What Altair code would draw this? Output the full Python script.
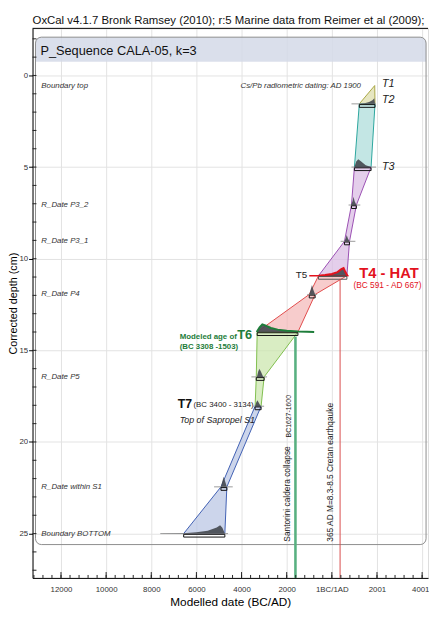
import altair as alt
import pandas as pd

# ---------------- axis tick values ----------------
x_major = [-12000, -10000, -8000, -6000, -4000, -2000, 0, 2000, 4000]
y_major = [0, 5, 10, 15, 20, 25]
x_minor = list(range(-13200, 4001, 400))
y_minor = list(range(-2, 28))

# ---------------- sequence elements ----------------
elem_names = ["T1", "T2", "T3", "P3_2", "P3_1", "T4", "P4", "T6", "P5", "T7", "S1", "BOTTOM"]
elem_depth = [0.55, 1.55, 5.0, 7.07, 9.05, 10.93, 11.95, 14.0, 16.45, 18.05, 22.45, 25.0]
range_lo = [1900, 1217, 1000, 870, 560, -590, -1000, -3308, -3348, -3400, -4913, -6565]
range_hi = [1900, 1913, 1739, 1087, 783, 667, -740, -1503, -3000, -3134, -4652, -4740]

# age-depth envelope segments (element names)
seg_names = ["yellow", "teal", "purple", "red", "green", "blue"]
seg_members = [["T1", "T2"], ["T2", "T3"], ["T3", "P3_2", "P3_1", "T4"],
               ["T4", "P4", "T6"], ["T6", "P5", "T7"], ["T7", "S1", "BOTTOM"]]
seg_fill = ["#dcdba6", "#a9dbd8", "#d9b9e2", "#f3b6b6", "#c9e5a9", "#b7c3e2"]
seg_stroke = ["#a9a644", "#2aa59d", "#9a4fb2", "#e04a4a", "#80bf4e", "#3f5fb3"]

# prior (light grey) baselines
prior_names = ["T2", "T3", "P3_2", "P3_1", "P4", "P5", "T7", "S1", "BOTTOM"]
prior_lo = [870, 870, 740, 390, -1087, -3565, -3478, -5217, -7600]
prior_hi = [1957, 1957, 1260, 1043, -652, -2870, -3000, -4391, -4600]

# posterior distributions: (years, relative heights in cm)
dist_years = {
    "T2": [1217, 1450, 1650, 1800, 1880, 1913],
    "T3": [1000, 1080, 1170, 1300, 1500, 1739],
    "P3_2": [850, 920, 960, 1010, 1090],
    "P3_1": [560, 620, 660, 710, 783],
    "T4": [-590, -300, 0, 250, 420, 520, 600, 690],
    "P4": [-1000, -940, -880, -820, -740],
    "T6": [-3330, -3200, -3080, -2950, -2700, -2400, -2000, -1500, -1100, -783],
    "P5": [-3320, -3260, -3210, -3140, -3040],
    "T7": [-3400, -3350, -3300, -3230, -3150],
    "S1": [-4913, -4850, -4790, -4730, -4652],
    "BOTTOM": [-7600, -6565, -6000, -5500, -5100, -4950, -4850, -4740],
}
dist_heights = {
    "T2": [0, 0.04, 0.1, 0.2, 0.3, 0],
    "T3": [0, 0.3, 0.43, 0.3, 0.1, 0],
    "P3_2": [0, 0.22, 0.45, 0.2, 0],
    "P3_1": [0, 0.18, 0.35, 0.15, 0],
    "T4": [0, 0.04, 0.1, 0.2, 0.36, 0.42, 0.2, 0],
    "P4": [0, 0.25, 0.52, 0.25, 0],
    "T6": [0, 0.25, 0.42, 0.36, 0.22, 0.13, 0.07, 0.03, 0.015, 0],
    "P5": [0, 0.3, 0.45, 0.28, 0],
    "T7": [0, 0.2, 0.33, 0.18, 0],
    "S1": [0, 0.3, 0.55, 0.3, 0],
    "BOTTOM": [0, 0.02, 0.07, 0.16, 0.33, 0.45, 0.32, 0],
}
outlined = {"T4": "#e3121d", "T6": "#1e7d3a"}

# events (vertical lines)
event_year = [-1613, 365]
event_top = [14.25, 11.1]
event_color = ["#58b080", "#d84a4a"]
event_width = [2.6, 1.0]

# element labels on the left
left_labels = ["Boundary top", "R_Date P3_2", "R_Date P3_1", "R_Date P4",
               "R_Date P5", "R_Date within S1", "Boundary BOTTOM"]
left_label_elem = ["T1", "P3_2", "P3_1", "P4", "P5", "S1", "BOTTOM"]

# ---------------- layout ----------------
W, H = 403, 560
XDOM = [-13261, 4261]
YDOM = [-2.57, 27.42]
FONT = "Liberation Sans"

xs = alt.Scale(domain=XDOM, nice=False, zero=False)
ys = alt.Scale(domain=YDOM, reverse=True, nice=False, zero=False)
label_expr = ("datum.value < 0 ? format(-datum.value,'d') : "
              "(datum.value == 0 ? '1BC/1AD' : format(datum.value + 1,'d'))")
xaxis = alt.Axis(values=x_major, labelExpr=label_expr, title="Modelled date (BC/AD)",
                 grid=True, gridColor="#e2e2e2", ticks=False, labelPadding=8,
                 labelAlign={"condition": {"test": "datum.value == 4000", "value": "right"},
                             "value": "center"},
                 labelOffset={"condition": {"test": "datum.value == 4000", "value": 7},
                              "value": 0},
                 labelFontSize=8, labelColor="#333", domainColor="#000",
                 titleFontSize=12, titleFontWeight="normal", titlePadding=3,
                 titleFont=FONT, labelFont=FONT)
yaxis = alt.Axis(values=y_major, title="Corrected depth (cm)", grid=True,
                 gridColor="#e2e2e2", tickSize=4, tickColor="#000", labelPadding=1,
                 labelFontSize=8, labelColor="#333", domainColor="#000",
                 titleFontSize=11, titleFontWeight="normal", titlePadding=0,
                 titleFont=FONT, labelFont=FONT)


def X(f):
    return alt.X(f, type="quantitative", scale=xs, axis=xaxis)


def Y(f):
    return alt.Y(f, type="quantitative", scale=ys, axis=yaxis)


depth_of = dict(zip(elem_names, elem_depth))

# ---------------- frames ----------------
panel_df = pd.DataFrame([{"x": -13130, "x2": 4174, "y": -2.09, "y2": 25.6}])
header_df = pd.DataFrame([{"x": -13130, "x2": 4174, "y": -2.09, "y2": -0.75}])

header = alt.Chart(header_df).mark_rect(
    fill="#d3d9e8", opacity=0.85, cornerRadiusTopLeft=6, cornerRadiusTopRight=6
).encode(x=X("x"), x2="x2", y=Y("y"), y2="y2")
panel = alt.Chart(panel_df).mark_rect(
    fillOpacity=0, stroke="#8c8c8c", strokeWidth=1, cornerRadius=6
).encode(x=X("x"), x2="x2", y=Y("y"), y2="y2")

top_line = alt.Chart(panel_df).mark_rule(color="#000", strokeWidth=1).encode(
    x=alt.value(0), x2=alt.value(W), y=alt.value(0))

ymin_df = pd.DataFrame({"d": y_minor})
ymin = alt.Chart(ymin_df).mark_rule(color="#222", strokeWidth=1).encode(
    y=Y("d"), x=alt.value(0), x2=alt.value(4))
xmin_df = pd.DataFrame({"yr": x_minor})
xmin = alt.Chart(xmin_df).mark_rule(color="#222", strokeWidth=1).encode(
    x=X("yr"), y=alt.value(H), y2=alt.value(H - 3))
xmaj = alt.Chart(pd.DataFrame({"yr": x_major})).mark_rule(color="#222", strokeWidth=1).encode(
    x=X("yr"), y=alt.value(H), y2=alt.value(H - 6))

# ---------------- envelopes ----------------
rows = []
for s, mem in zip(seg_names, seg_members):
    for m in mem:
        i = elem_names.index(m)
        rows.append({"seg": s, "depth": elem_depth[i], "lo": range_lo[i], "hi": range_hi[i]})
env_df = pd.DataFrame(rows)
env = alt.Chart(env_df).mark_area(orient="horizontal", fillOpacity=0.7, strokeWidth=1).encode(
    y=Y("depth"), x=X("lo"), x2="hi",
    fill=alt.Fill("seg:N", scale=alt.Scale(domain=seg_names, range=seg_fill), legend=None),
    stroke=alt.Stroke("seg:N", scale=alt.Scale(domain=seg_names, range=seg_stroke), legend=None),
    detail="seg:N")

# ---------------- prior baselines ----------------
prior_df = pd.DataFrame({"name": prior_names, "lo": prior_lo, "hi": prior_hi,
                         "depth": [depth_of[n] for n in prior_names]})
prior = alt.Chart(prior_df).mark_rule(color="#9a9a9a", strokeWidth=1).encode(
    y=Y("depth"), x=X("lo"), x2="hi")

t5_df = pd.DataFrame([{"lo": -1000, "hi": 740, "depth": depth_of["T4"]}])
t5_line = alt.Chart(t5_df).mark_rule(color="#e3121d", strokeWidth=1.3).encode(
    y=Y("depth"), x=X("lo"), x2="hi")

# ---------------- distributions ----------------
drows = []
for n, yrs in dist_years.items():
    for yr, h in zip(yrs, dist_heights[n]):
        drows.append({"name": n, "yr": yr, "top": depth_of[n] - h, "base": depth_of[n]})
dist_df = pd.DataFrame(drows)
dist = alt.Chart(dist_df).mark_area(color="#464b51", opacity=0.92).encode(
    x=X("yr"), y=Y("top"), y2="base", detail="name:N")

outline_layers = []
for n, col in outlined.items():
    outline_layers.append(
        alt.Chart(dist_df[dist_df["name"] == n]).mark_line(color=col, strokeWidth=2).encode(
            x=X("yr"), y=Y("top")))

# ---------------- range brackets ----------------
br = pd.DataFrame({"name": elem_names, "lo": range_lo, "hi": range_hi, "depth": elem_depth})
br = br[br["name"] != "T1"].copy()
br["y1"] = br["depth"] + 0.04
br["y2"] = br["depth"] + 0.19
br["col"] = ["#555" if n == "T4" else "#111" for n in br["name"]]
brackets = alt.Chart(br).mark_rect(fillOpacity=0, strokeWidth=1).encode(
    x=X("lo"), x2="hi", y=Y("y1"), y2="y2",
    stroke=alt.Stroke("col:N", scale=None))

# ---------------- events ----------------
ev_df = pd.DataFrame({"yr": event_year, "top": event_top, "col": event_color,
                      "w": event_width, "bot": YDOM[1]})
events = alt.Chart(ev_df).mark_rule().encode(
    x=X("yr"), y=Y("top"), y2="bot",
    color=alt.Color("col:N", scale=None),
    strokeWidth=alt.StrokeWidth("w:Q", scale=None))


# ---------------- texts ----------------
def text_layer(items, **mk):
    df = pd.DataFrame(items, columns=["t", "x", "y"])
    return alt.Chart(df).mark_text(font=FONT, **mk).encode(x=X("x"), y=Y("y"), text="t:N")


left_lab = text_layer([(t, -12870, depth_of[e]) for t, e in zip(left_labels, left_label_elem)],
                      fontSize=8, fontStyle="italic", color="#333", align="left", baseline="middle")
cs_lab = text_layer([("Cs/Pb radiometric dating: AD 1900", 1291, 0.55)],
                    fontSize=8, fontStyle="italic", color="#333", align="right", baseline="middle")
t_ital = text_layer([("T1", 2217, 0.48), ("T2", 2217, 1.35), ("T3", 2217, 4.98)],
                    fontSize=11, fontStyle="italic", color="#222", align="left", baseline="middle")
t5_lab = text_layer([("T5", -1087, 10.87)], fontSize=10, color="#222", align="right", baseline="middle")
hat_lab = text_layer([("T4 - HAT", 1217, 10.77)], fontSize=15, fontWeight="bold",
                     color="#e3121d", align="left", baseline="middle")
hat_sub = text_layer([("(BC 591 - AD 667)", 957, 11.46)], fontSize=8.5,
                     color="#e3121d", align="left", baseline="middle")
t6_a = text_layer([("Modeled age of", -6740, 14.25), ("(BC 3308 -1503)", -6740, 14.8)],
                  fontSize=8, fontWeight="bold", color="#1e7d3a", align="left", baseline="middle")
t6_b = text_layer([("T6", -4190, 14.14)], fontSize=13, fontWeight="bold",
                  color="#1e7d3a", align="left", baseline="middle")
t7_a = text_layer([("T7", -6826, 17.94)], fontSize=12.5, fontWeight="bold",
                  color="#111", align="left", baseline="middle")
t7_b = text_layer([("(BC 3400 - 3134)", -6130, 17.98)], fontSize=8,
                  color="#222", align="left", baseline="middle")
sap = text_layer([("Top of Sapropel S1", -6740, 18.8)], fontSize=9, fontStyle="italic",
                 color="#222", align="left", baseline="middle")
head = text_layer([("P_Sequence CALA-05, k=3", -12913, -1.33)], fontSize=13,
                  color="#111", align="left", baseline="middle")
vert_a = text_layer([("Santorini caldera collapse", -1783, 25.44),
                     ("365 AD M=8.3-8.5 Cretan earthqauke", 130, 25.44)],
                    fontSize=8.5, color="#222", angle=270, align="left", baseline="bottom")
vert_b = text_layer([("BC1627-1600", -1783, 19.75)], fontSize=7, color="#222",
                    angle=270, align="left", baseline="bottom")

title = alt.Chart(panel_df).mark_text(
    text="OxCal v4.1.7 Bronk Ramsey (2010); r:5 Marine data from Reimer et al (2009);",
    font=FONT, fontSize=11.6, color="#111", align="left", baseline="alphabetic"
).encode(x=alt.value(0), y=alt.value(-4))

chart = alt.layer(
    header, panel, env, prior, t5_line, dist, *outline_layers, brackets, events,
    top_line, ymin, xmin, xmaj,
    left_lab, cs_lab, t_ital, t5_lab, hat_lab, hat_sub, t6_a, t6_b, t7_a, t7_b, sap,
    head, vert_a, vert_b, title
).properties(
    width=W, height=H,
    padding={"left": 25, "top": 15, "right": 1, "bottom": 31},
    autosize=alt.AutoSizeParams(type="none"),
).configure_view(stroke=None).configure(background="white")

chart.save("out.html", embed_options={"renderer": "svg", "actions": False})
